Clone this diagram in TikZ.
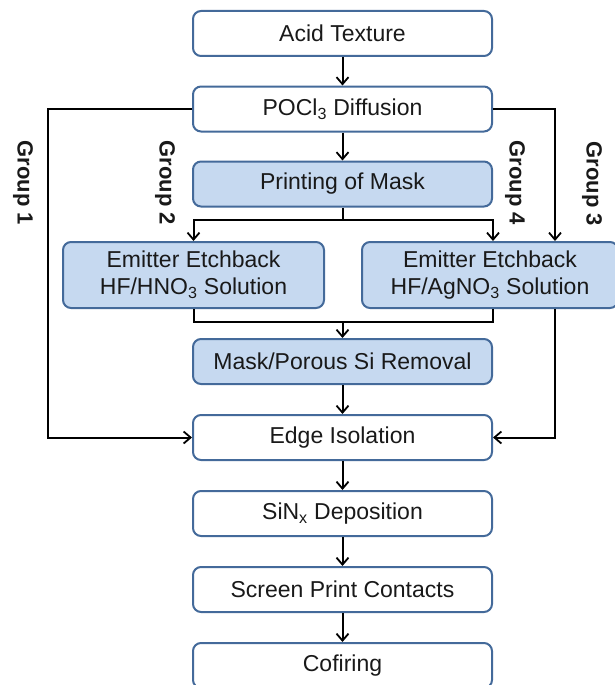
\documentclass[tikz,border=0pt]{standalone}
\usepackage{fontspec}
\setmainfont{Liberation Sans}
\usetikzlibrary{arrows.meta}
\definecolor{boxline}{RGB}{68,106,154}
\definecolor{boxfill}{RGB}{198,217,240}
\begin{document}
\begin{tikzpicture}[x=1pt,y=-1pt,
  box/.style={draw=boxline, line width=2pt, rounded corners=8pt, fill=white,
    minimum width=299pt, minimum height=45pt, inner sep=0pt,
    font=\fontsize{23}{27}\selectfont, align=center, text=black!90},
  bluebox/.style={box, fill=boxfill},
  conn/.style={line width=2pt, draw=black},
  arr/.style={conn, -{Straight Barb[length=7pt,width=12pt,line width=1.8pt]}},
  grp/.style={font=\fontsize{22}{26}\selectfont\bfseries, rotate=-90, inner sep=0pt, text=black!90}
]
\useasboundingbox (0,0) rectangle (614,685);

\node[box] (acid) at (342.5,33.5) {Acid Texture};
\node[box] (pocl) at (342.5,109) {POCl\textsubscript{3} Diffusion};
\node[bluebox] (printmask) at (342.5,184) {Printing of Mask};
\node[bluebox, minimum width=261pt, minimum height=66pt] (etchL) at (193.5,275)
  {Emitter Etchback\\HF/HNO\textsubscript{3} Solution};
\node[bluebox, minimum width=256pt, minimum height=66pt] (etchR) at (490,275)
  {Emitter Etchback\\HF/AgNO\textsubscript{3} Solution};
\node[bluebox] (maskrem) at (342.5,361.5) {Mask/Porous Si Removal};
\node[box] (edge) at (342.5,437.5) {Edge Isolation};
\node[box] (sinx) at (342.5,513.5) {SiN\textsubscript{x} Deposition};
\node[box] (screen) at (342.5,589.5) {Screen Print Contacts};
\node[box] (cofire) at (342.5,665.5) {Cofiring};

\node[grp] (lg1) at (23,183) {Group 1};
\node[grp] (lg2) at (165,183) {Group 2};
\node[grp] (lg4) at (515,183) {Group 4};
\node[grp] (lg3) at (592,184) {Group 3};

\coordinate (g1) at (48,109);
\coordinate (g3) at (555,109);
\coordinate (split) at (342.5,220);
\coordinate (join) at (342.5,322);

\draw[arr] (acid) -- (pocl);
\draw[arr] (pocl) -- (printmask);
\draw[conn] (printmask.south) -- (split);
\draw[arr] (split) -| (etchL.north);
\draw[arr] (split) -| (pocl.east |- etchR.north);
\draw[conn] (etchL.south) |- (join);
\draw[conn] (pocl.east |- etchR.south) |- (join);
\draw[arr] (join) -- (maskrem.north);
\draw[arr] (maskrem) -- (edge);
\draw[arr] (edge) -- (sinx);
\draw[arr] (sinx) -- (screen);
\draw[arr] (screen) -- (cofire);

\draw[arr] (pocl.west) -- (g1) |- (edge.west);
\draw[arr] (pocl.east) -- (g3) -- (g3 |- etchR.north);
\draw[arr] (g3 |- etchR.south) |- (edge.east);
\end{tikzpicture}
\end{document}
